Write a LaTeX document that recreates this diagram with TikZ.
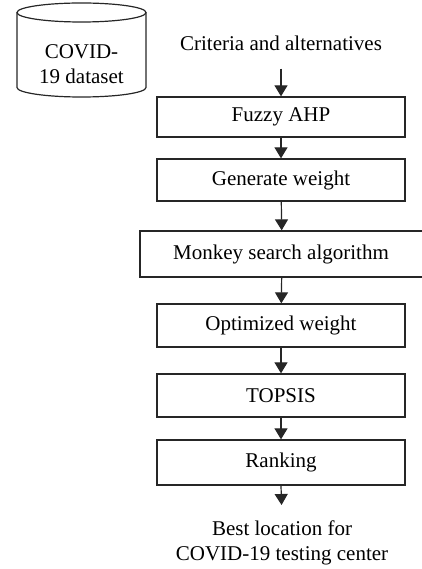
\documentclass[tikz,border=0pt]{standalone}
\usepackage{fontspec}
\setmainfont{Liberation Serif}
\usetikzlibrary{arrows.meta}

\begin{document}
\begin{tikzpicture}[x=1pt, y=-1pt,
    every node/.style={font=\fontsize{21}{25}\selectfont},
    stepbox/.style={draw=black!85, line width=1.3pt, minimum width=248pt, inner sep=0pt},
    flow/.style={draw=black!85, line width=1.2pt, -{Triangle[width=13pt,length=11pt]}}]
\useasboundingbox (0, 0) rectangle (421, 569);

% dataset drum
\draw [black!85, line width=1.2pt] (17, 12.5) -- (17, 87.5)
    arc [start angle=180, end angle=360, x radius=64.5pt, y radius=9.5pt] -- (146, 12.5);
\draw [black!85, line width=1.2pt] (81.5, 12.5) ellipse [x radius=64.5pt, y radius=9.5pt];
\node (data) [align=center] at (81.5, 64) {COVID-\\19 dataset};

% main chain
\node (crit) [anchor=base] at (281, 51) {Criteria and alternatives};
\node (fuzzy) [stepbox, minimum height=40pt] at (281, 117) {Fuzzy AHP};
\node (gen) [stepbox, minimum height=42pt] at (281, 180) {Generate weight};
\node (monkey) [stepbox, minimum width=284pt, minimum height=46pt] at (282, 254) {\hspace*{-2pt}Monkey search algorithm};
\node (opt) [stepbox, minimum height=43pt] at (281, 325.5) {Optimized weight};
\node (topsis) [stepbox, minimum height=43pt] at (281, 395.5) {TOPSIS};
\node (rank) [stepbox, minimum height=45pt] at (281, 462.5) {Ranking};
\node (best) [align=center, anchor=north, inner sep=0pt] at (282, 521) {Best location for\\COVID-19 testing center};

\draw [flow, shorten <=14pt] (crit.south) -- (fuzzy.north);
\draw [flow] (fuzzy) -- (gen);
\draw [flow] (gen) -- (monkey);
\draw [flow] (monkey) -- (opt);
\draw [flow] (opt) -- (topsis);
\draw [flow] (topsis) -- (rank);
\draw [flow, shorten >=16pt] (rank.south) -- (best.north);
\end{tikzpicture}
\end{document}
